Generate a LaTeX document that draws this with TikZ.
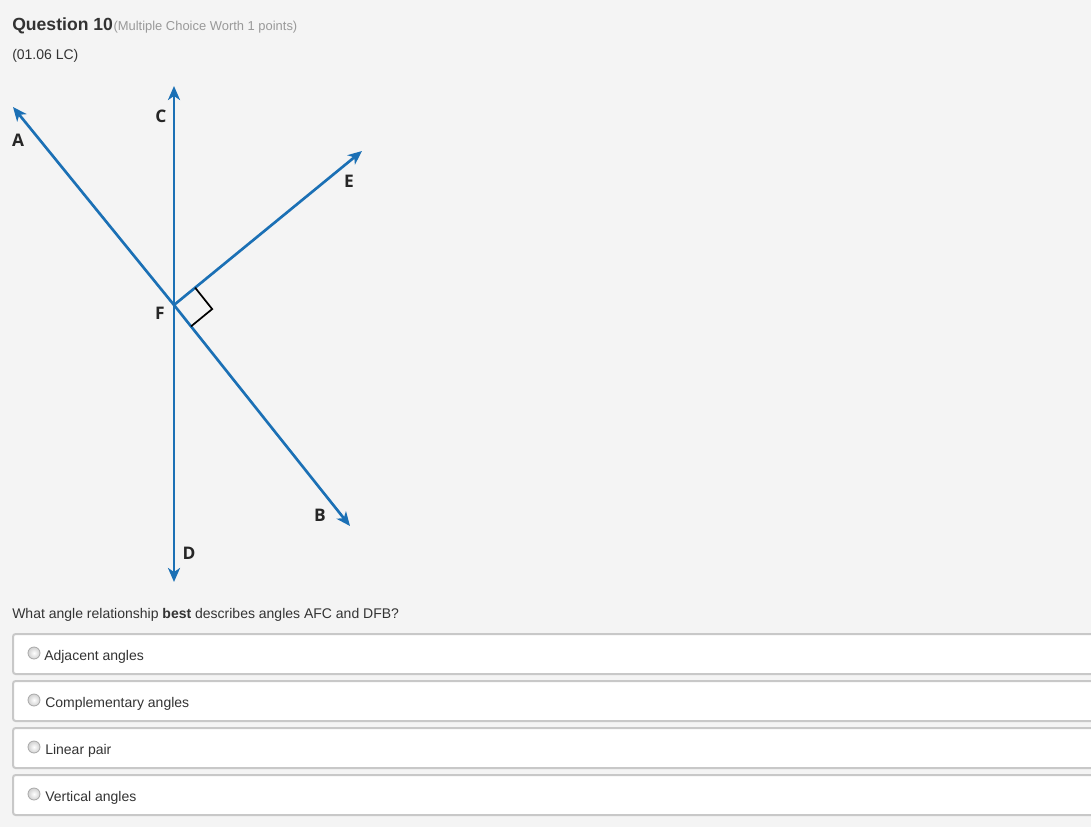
\documentclass[tikz,border=0pt]{standalone}
\usepackage{fontspec}
\setmainfont{Liberation Sans}
\newfontfamily\lblfont{Open Sans}
\usetikzlibrary{arrows.meta,calc}
\definecolor{bg}{HTML}{F4F4F4}
\definecolor{rayblue}{HTML}{1B70B5}
\definecolor{dark}{HTML}{333333}
\definecolor{soft}{HTML}{999999}
\definecolor{boxline}{HTML}{C8C8C8}
\definecolor{radioline}{HTML}{A8A8A8}
\begin{document}
\begin{tikzpicture}[x=0.75pt,y=-0.75pt,
  ray/.style={draw=rayblue,line width=2pt,-{Stealth[length=10.5pt,width=9pt,inset=3pt]}},
  lbl/.style={font=\lblfont\bfseries\fontsize{13}{15}\selectfont,text=black!85,inner sep=0pt},
  txt/.style={anchor=base west,inner sep=0pt,text=dark,font=\fontsize{10.5}{12}\selectfont},
  optbox/.style={draw=boxline,line width=1.5pt,fill=white,rounded corners=2pt},
  radio/.style={circle,minimum size=9pt,inner sep=0pt,draw=radioline,line width=0.6pt,inner color=white,outer color=black!18}]
\fill[bg] (0,0) rectangle (1091,827);
\useasboundingbox (0,0) rectangle (1091,827);

% header
\node[txt,font=\bfseries\fontsize{13.2}{15}\selectfont] (q) at (12,31) {Question 10};
\node[txt,text=soft,font=\fontsize{9.7}{11}\selectfont] (worth) at (q.base east) {(Multiple Choice Worth 1 points)};
\node[txt] (code) at (12,60) {(01.06 LC)};

% figure
\coordinate (F) at (174,305);
\coordinate (A) at (13,107);
\coordinate (B) at (350,526);
\coordinate (C) at (174,86);
\coordinate (D) at (174,582);
\coordinate (E) at (362,151);
\draw[ray] (F) -- (A);
\draw[ray] (F) -- (B);
\draw[ray] (F) -- (C);
\draw[ray] (F) -- (D);
\draw[ray] (F) -- (E);
\coordinate (p1) at ($(F)!20.5pt!(E)$);
\coordinate (p2) at ($(F)!20.5pt!(B)$);
\draw[black,line width=1.3pt] (p1) -- ($(p1)+(p2)-(F)$) -- (p2);

\node[lbl] (lA) at (18,140) {A};
\node[lbl] (lC) at (161,116) {C};
\node[lbl] (lE) at (349,181) {E};
\node[lbl] (lF) at (160,313) {F};
\node[lbl] (lB) at (320,515) {B};
\node[lbl] (lD) at (189,553) {D};

% question
\node[txt] (ques) at (12,618) {What angle relationship \textbf{best} describes angles AFC and DFB?};

% options
\draw[optbox] (13,634) rectangle (1100,674);
\draw[optbox] (13,681) rectangle (1100,721);
\draw[optbox] (13,728) rectangle (1100,768);
\draw[optbox] (13,775) rectangle (1100,815);
\node[radio] (r1) at (34,653) {};
\node[radio] (r2) at (34,700) {};
\node[radio] (r3) at (34,747) {};
\node[radio] (r4) at (34,794) {};
\node[txt] (o1) at (44,660) {Adjacent angles};
\node[txt] (o2) at (45,707) {Complementary angles};
\node[txt] (o3) at (45,754) {Linear pair};
\node[txt] (o4) at (45,801) {Vertical angles};
\end{tikzpicture}
\end{document}
